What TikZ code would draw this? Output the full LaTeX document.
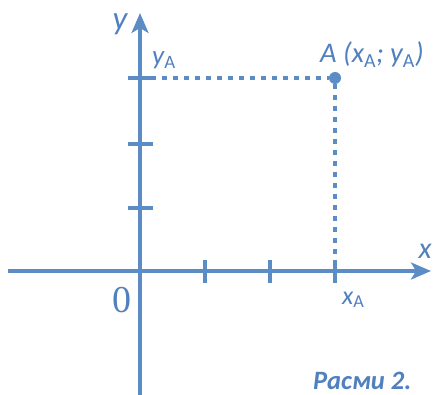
\documentclass[tikz,border=0pt]{standalone}
\usepackage{fontspec}
\setmainfont{Carlito}
\newfontfamily\serifz{Liberation Serif}
\usetikzlibrary{arrows.meta}
\definecolor{axc}{RGB}{92,140,198}
\definecolor{txc}{RGB}{80,128,190}
\begin{document}
\begin{tikzpicture}[x=1pt,y=-1pt,
  axis/.style={draw=axc,line width=3.3pt,-{Stealth[length=20pt,width=17pt,inset=5pt]}},
  tickmark/.style={draw=axc,line width=3.3pt},
  guide/.style={draw=axc,line width=3.3pt,dash pattern=on 5pt off 6pt},
  lbl/.style={text=txc,inner sep=0pt,font=\itshape},
  every node/.style={inner sep=0pt}]
\useasboundingbox (0,0) rectangle (433,395);
\coordinate (xs) at (8,271);
\coordinate (xe) at (431,271);
\coordinate (ys) at (140,395);
\coordinate (ye) at (140,13);
\coordinate (O) at (140,271);
\coordinate (ya) at (140,78);
\coordinate (xa) at (335,271);
\node[circle,fill=axc,minimum size=12pt] (A) at (335,78) {};
\draw[guide] (ya) -- (A);
\draw[guide] (A) -- (xa);
\draw[axis] (xs) -- (xe);
\draw[axis] (ys) -- (ye);
\foreach \t in {78,144,208} \draw[tickmark] (128,\t) -- (153,\t);
\foreach \t in {205,270,335} \draw[tickmark] (\t,260) -- (\t,283);
\node[lbl,font=\itshape\fontsize{33}{33}\selectfont,anchor=base] (ylab) at (120,30) {y};
\node[lbl,font=\itshape\fontsize{27}{27}\selectfont,anchor=base west] (yalab) at (152,65) {y\textsubscript{\upshape A}};
\node[lbl,font=\itshape\fontsize{28.5}{28.5}\selectfont,anchor=base west] (Alab) at (320,63) {A (x\textsubscript{\upshape A}; y\textsubscript{\upshape A})};
\node[lbl,font=\itshape\fontsize{30}{30}\selectfont,anchor=base] (xlab) at (425,258) {x};
\node[lbl,font=\itshape\fontsize{26}{26}\selectfont,anchor=base west] (xalab) at (342,304) {x\textsubscript{\upshape A}};
\node[text=txc,font=\serifz\fontsize{38}{38}\selectfont,anchor=base] (zero) at (122,312) {0};
\node[text=txc,font=\bfseries\itshape\fontsize{26.5}{26.5}\selectfont,anchor=base west] (cap) at (313,389) {Расми 2.};
\end{tikzpicture}
\end{document}
